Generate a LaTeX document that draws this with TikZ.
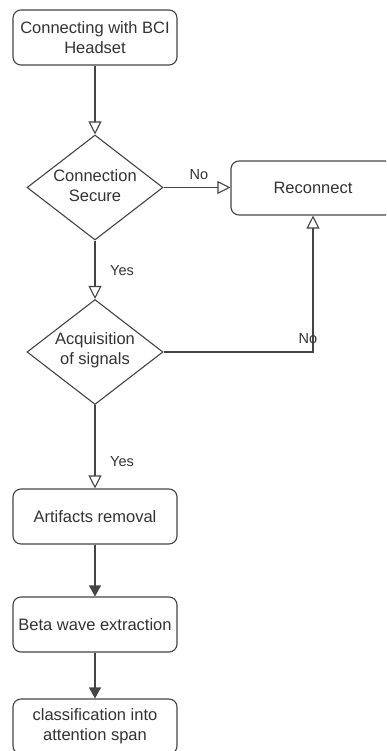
\documentclass[tikz,border=0pt]{standalone}
\usepackage{fontspec}
\setmainfont{Liberation Sans}
\usetikzlibrary{shapes.geometric,arrows.meta}
\definecolor{ink}{HTML}{333333}
\definecolor{edge}{HTML}{444444}
\begin{document}
\begin{tikzpicture}[x=1pt,y=-1pt,
  box/.style={draw=edge,line width=1.1pt,rounded corners=8pt,minimum width=164pt,minimum height=55pt,inner sep=2pt,align=center,text=ink,font=\fontsize{16.5}{20}\selectfont},
  dia/.style={draw=edge,line width=1.1pt,diamond,minimum width=136pt,minimum height=105pt,inner sep=0pt},
  dtext/.style={align=center,text=ink,font=\fontsize{16.5}{20}\selectfont},
  lbl/.style={text=ink,font=\fontsize{14.5}{16}\selectfont,inner sep=0pt},
  conn/.style={draw=edge,line width=1.1pt},
  openarr/.style={conn,-{Triangle[open,length=13pt,width=13pt]}},
  fillarr/.style={conn,-{Triangle[length=11pt,width=12pt]}}]
\useasboundingbox (0,0) rectangle (386,751);
\clip (0,0) rectangle (386,751);
\fill[white] (0,0) rectangle (386,751);

\node[box] (b1) at (95,37.5) {Connecting with BCI\\Headset};
\node[dia] (d1) at (95,187.5) {};
\node[dtext] (t1) at (95,186) {Connection\\Secure};
\node[box,minimum height=54pt] (rc) at (313,188) {Reconnect};
\node[dia] (d2) at (95,352) {};
\node[dtext] (t2) at (95,350) {Acquisition\\of signals};
\node[box] (b3) at (95,516.5) {Artifacts removal};
\node[box] (b4) at (95,624.5) {Beta wave extraction};
\node[box] (b5) at (95,726.5) {classification into\\attention span};

\draw[openarr] (b1.south) -- (d1.north);
\draw[openarr] (d1.east) -- (rc.west |- d1.east);
\draw[openarr] (d1.south) -- (d2.north);
\draw[openarr] (d2.east) -- (rc.south |- d2.east) -- (rc.south);
\draw[openarr] (d2.south) -- (b3.north);
\draw[fillarr] (b3.south) -- (b4.north);
\draw[fillarr] (b4.south) -- (b5.north);

\node[lbl] (n1) at (199,175) {No};
\node[lbl] (y1) at (122,271) {Yes};
\node[lbl] (n2) at (308,339) {No};
\node[lbl] (y2) at (122,462) {Yes};
\end{tikzpicture}
\end{document}
